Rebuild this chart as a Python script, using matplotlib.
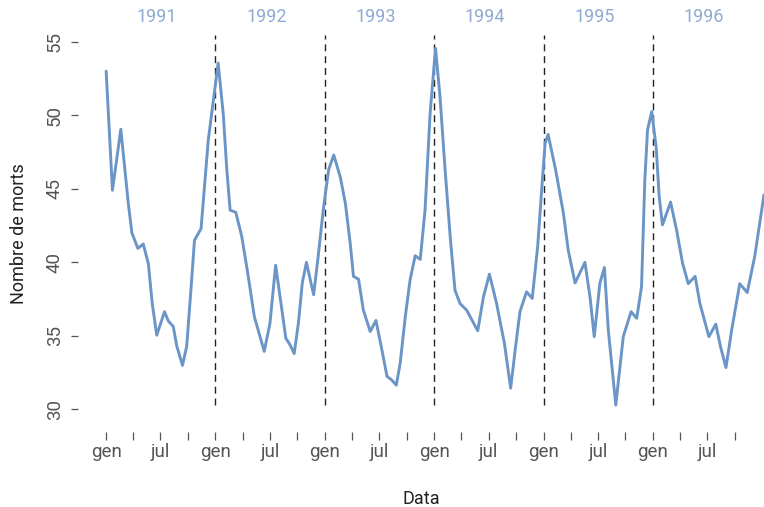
import numpy as np
import pandas as pd
import matplotlib
matplotlib.use("Agg")
import matplotlib.pyplot as plt
import matplotlib.transforms as mtransforms

# ---------------------------------------------------------------------------
# Data (weekly deaths, smoothed)
# ---------------------------------------------------------------------------
dates = [
    "1991-01-01", "1991-01-22", "1991-02-19", "1991-03-16", "1991-03-28",
    "1991-04-17", "1991-05-05", "1991-05-22", "1991-06-04", "1991-06-19",
    "1991-07-15", "1991-07-28", "1991-08-13", "1991-08-25", "1991-09-13",
    "1991-09-27", "1991-10-11", "1991-10-23", "1991-11-14", "1991-12-08",
    "1992-01-10", "1992-01-27", "1992-02-08", "1992-02-19", "1992-03-09",
    "1992-03-29", "1992-04-18", "1992-05-10", "1992-06-12", "1992-07-01",
    "1992-07-20", "1992-08-07", "1992-08-23", "1992-09-06", "1992-09-20",
    "1992-10-04", "1992-10-17", "1992-10-31", "1992-11-15", "1992-11-24",
    "1992-12-09", "1992-12-26",
    "1993-01-13", "1993-01-30", "1993-02-21", "1993-03-10", "1993-03-26",
    "1993-04-06", "1993-04-23", "1993-05-09", "1993-06-01", "1993-06-20",
    "1993-07-08", "1993-07-27", "1993-08-12", "1993-08-27", "1993-09-09",
    "1993-09-26", "1993-10-12", "1993-10-29", "1993-11-15", "1993-12-01",
    "1993-12-18",
    "1994-01-05", "1994-01-20", "1994-02-06", "1994-02-23", "1994-03-11",
    "1994-03-28", "1994-04-19", "1994-05-26", "1994-06-14", "1994-07-04",
    "1994-07-28", "1994-08-23", "1994-09-13", "1994-09-28", "1994-10-14",
    "1994-11-05", "1994-11-24", "1994-12-12", "1994-12-27",
    "1995-01-06", "1995-01-16", "1995-02-10", "1995-03-08", "1995-03-24",
    "1995-04-16", "1995-05-19", "1995-06-05", "1995-06-19", "1995-07-08",
    "1995-07-23", "1995-08-05", "1995-08-30", "1995-09-24", "1995-10-20",
    "1995-11-08", "1995-11-24", "1995-12-05", "1995-12-14", "1995-12-28",
    "1996-01-12", "1996-01-22", "1996-02-02", "1996-02-29", "1996-03-20",
    "1996-04-09", "1996-04-28", "1996-05-21", "1996-06-06", "1996-07-06",
    "1996-07-29", "1996-08-14", "1996-09-01", "1996-09-20", "1996-10-17",
    "1996-11-11", "1996-12-06", "1997-01-06",
]
deaths = [
    53.0, 44.9, 49.05, 44.0, 42.0,
    40.95, 41.25, 39.9, 37.2, 35.05,
    36.65, 36.0, 35.65, 34.3, 33.0,
    34.3, 38.1, 41.5, 42.3, 48.3,
    53.55, 50.1, 46.3, 43.55, 43.4,
    41.75, 39.25, 36.3, 33.95, 35.85,
    39.8, 37.2, 34.85, 34.4, 33.8,
    35.85, 38.6, 40.0, 38.6, 37.8,
    40.4, 43.55,
    46.3, 47.3, 45.8, 44.0, 41.3,
    39.05, 38.85, 36.75, 35.3, 36.05,
    34.25, 32.25, 32.0, 31.65, 33.15,
    36.3, 38.8, 40.45, 40.2, 43.55,
    50.15,
    54.55, 51.25, 46.3, 41.75, 38.1,
    37.2, 36.75, 35.35, 37.65, 39.2,
    37.2, 34.5, 31.45, 34.05, 36.65,
    38.0, 37.55, 41.05, 45.35,
    48.1, 48.7, 46.3, 43.35, 40.85,
    38.6, 40.0, 37.65, 34.95, 38.6,
    39.65, 35.4, 30.3, 34.95, 36.65,
    36.2, 38.35, 45.6, 49.0, 50.25,
    47.8, 44.45, 42.55, 44.1, 42.2,
    39.95, 38.55, 39.05, 37.2, 34.95,
    35.8, 34.25, 32.85, 35.4, 38.55,
    37.95, 40.4, 44.6,
]
years = [1991, 1992, 1993, 1994, 1995, 1996]
y_ticks = [30, 35, 40, 45, 50, 55]
month_names = {1: "gen", 7: "jul"}

LINE = "#6b95c7"
YEAR_COL = "#8eabd2"
TICK_COL = "#555555"

plt.rcParams["font.family"] = ["Roboto", "DejaVu Sans"]

t = pd.to_datetime(dates)

fig = plt.figure(figsize=(7.64, 5.07), dpi=100)
ax = fig.add_axes([78 / 764, 75 / 507, 1 - 78 / 764, 397 / 507])

ax.plot(t, deaths, color=LINE, lw=2.1, solid_joinstyle="round",
        solid_capstyle="round", zorder=3)

# dashed separators at each new year
for yr in years[1:]:
    ax.axvline(pd.Timestamp(f"{yr}-01-01"), ymin=0.068, ymax=1.0,
               color="#222222", lw=1.0, ls=(0, (5, 3.5)), zorder=2)

# year labels above the plot
trans = mtransforms.blended_transform_factory(ax.transData, ax.transAxes)
for yr in years:
    ax.text(pd.Timestamp(f"{yr}-06-20"), 1.045, str(yr), transform=trans,
            ha="center", va="center", fontsize=13, color=YEAR_COL)

# axes limits
ax.set_xlim(t[0] - pd.Timedelta(days=94), t[-1])
ax.set_ylim(28.47, 55.455)

# x ticks every three months
xt = pd.date_range("1991-01-01", "1996-10-01", freq="3MS")
ax.set_xticks(xt)
ax.set_xticklabels([month_names.get(d.month, "") for d in xt])
ax.set_yticks(y_ticks)
ax.set_yticklabels([str(v) for v in y_ticks], rotation=90, va="center")

for s in ax.spines.values():
    s.set_visible(False)
ax.tick_params(axis="x", length=5.8, width=0.9, color=TICK_COL, pad=2,
               labelsize=13.5, labelcolor=TICK_COL)
ax.tick_params(axis="y", length=5.2, width=0.9, color=TICK_COL, pad=5,
               labelsize=13.5, labelcolor=TICK_COL)

ax.set_xlabel("Data", fontsize=13, color="#222222", labelpad=21)
ax.set_ylabel("Nombre de morts", fontsize=13, color="#222222", labelpad=13)

fig.savefig("out.png", dpi=100)
